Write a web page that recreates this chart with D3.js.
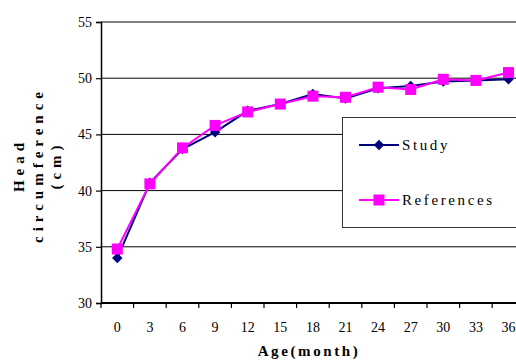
<!DOCTYPE html>
<html>
<head>
<meta charset="utf-8">
<script src="https://cdn.jsdelivr.net/npm/d3@7"></script>
<style>
  html, body { margin: 0; padding: 0; background: #fff; }
  svg { display: block; }
</style>
</head>
<body>
<svg id="chart" width="516" height="360"></svg>
<script>
// Head circumference by age
const ages = ["0", "3", "6", "9", "12", "15", "18", "21", "24", "27", "30", "33", "36"];
const studyValues = [34.0, 40.7, 43.7, 45.2, 47.1, 47.7, 48.6, 48.2, 49.1, 49.3, 49.7, 49.8, 49.9];
const referenceValues = [34.8, 40.6, 43.8, 45.8, 47.0, 47.7, 48.4, 48.3, 49.2, 49.0, 49.9, 49.8, 50.5];
const yTicks = [30, 35, 40, 45, 50, 55];
const seriesNames = ["Study", "References"];

const FONT = '"Liberation Serif"';
const svg = d3.select("#chart");
const plotLeft = 101, plotTop = 22, plotBottom = 303;
const band = 32.6;
const plotRight = plotLeft + band * ages.length;

const x = d3.scaleBand().domain(ages).range([plotLeft, plotRight]).paddingInner(0).paddingOuter(0);
const y = d3.scaleLinear().domain([30, 55]).range([plotBottom, plotTop]);

// Horizontal gridlines
svg.append("g")
  .selectAll("line")
  .data(yTicks.filter(t => t > 30 && t < 55))
  .join("line")
  .attr("x1", plotLeft).attr("x2", plotRight)
  .attr("y1", d => y(d)).attr("y2", d => y(d))
  .attr("stroke", "#000").attr("stroke-width", 1);

// Top border of plot area
svg.append("line")
  .attr("x1", plotLeft).attr("x2", plotRight)
  .attr("y1", y(55)).attr("y2", y(55))
  .attr("stroke", "#808080").attr("stroke-width", 2);

// Y axis
const yAxis = svg.append("g")
  .attr("transform", `translate(${plotLeft},0)`)
  .attr("font-family", null)
  .call(d3.axisLeft(y).tickValues(yTicks).tickSize(5).tickPadding(4).tickFormat(d3.format("d")));
yAxis.attr("font-family", null).attr("font-size", null);
yAxis.select(".domain").attr("stroke", "#000").attr("stroke-width", 1.5);
yAxis.selectAll(".tick line").attr("stroke", "#000").attr("stroke-width", 1.2);
yAxis.selectAll("text")
  .style("font-family", FONT)
  .attr("font-size", 14).attr("fill", "#000");

// X axis (ticks at category boundaries)
const xg = svg.append("g").attr("transform", `translate(0,${plotBottom})`);
xg.append("line")
  .attr("x1", plotLeft).attr("x2", plotRight)
  .attr("stroke", "#000").attr("stroke-width", 2);
xg.selectAll("line.tk")
  .data(d3.range(ages.length + 1))
  .join("line")
  .attr("class", "tk")
  .attr("x1", i => plotLeft + i * x.bandwidth())
  .attr("x2", i => plotLeft + i * x.bandwidth())
  .attr("y1", 0).attr("y2", 5)
  .attr("stroke", "#000").attr("stroke-width", 1.2);
xg.selectAll("text")
  .data(ages)
  .join("text")
  .attr("x", d => x(d) + x.bandwidth() / 2)
  .attr("y", 29)
  .attr("text-anchor", "middle")
  .style("font-family", FONT)
  .attr("font-size", 14)
  .attr("fill", "#000")
  .text(d => d);

// Series lines and markers
const cx = d => x(d) + x.bandwidth() / 2;
const line = d3.line().x(d => cx(d.age)).y(d => y(d.v));
const studyData = ages.map((a, i) => ({ age: a, v: studyValues[i] }));
const refData = ages.map((a, i) => ({ age: a, v: referenceValues[i] }));

const navy = "#000080", magenta = "#FF00FF";
const diamond = d3.symbol().type(d3.symbolDiamond2).size(70);

svg.append("path").datum(studyData)
  .attr("d", line).attr("fill", "none").attr("stroke", navy).attr("stroke-width", 2);
svg.append("g").selectAll("path")
  .data(studyData).join("path")
  .attr("d", diamond)
  .attr("transform", d => `translate(${cx(d.age)},${y(d.v)})`)
  .attr("fill", navy);

svg.append("path").datum(refData)
  .attr("d", line).attr("fill", "none").attr("stroke", magenta).attr("stroke-width", 2);
svg.append("g").selectAll("rect")
  .data(refData).join("rect")
  .attr("x", d => cx(d.age) - 5.5).attr("y", d => y(d.v) - 5.5)
  .attr("width", 11).attr("height", 11)
  .attr("fill", magenta);

// Legend
const lg = svg.append("g");
lg.append("rect")
  .attr("x", 342.5).attr("y", 117.5).attr("width", 200).attr("height", 110)
  .attr("fill", "#fff").attr("stroke", "#333").attr("stroke-width", 1);
const items = [
  { name: seriesNames[0], color: navy, yPos: 145, marker: "diamond" },
  { name: seriesNames[1], color: magenta, yPos: 200, marker: "square" }
];
items.forEach(it => {
  lg.append("line")
    .attr("x1", 359).attr("x2", 399).attr("y1", it.yPos).attr("y2", it.yPos)
    .attr("stroke", it.color).attr("stroke-width", 2);
  if (it.marker === "diamond") {
    lg.append("path").attr("d", diamond)
      .attr("transform", `translate(379,${it.yPos})`).attr("fill", it.color);
  } else {
    lg.append("rect").attr("x", 373.5).attr("y", it.yPos - 5.5)
      .attr("width", 11).attr("height", 11).attr("fill", it.color);
  }
  lg.append("text")
    .attr("x", 402).attr("y", it.yPos + 5)
    .style("font-family", FONT)
    .attr("font-size", 15).attr("letter-spacing", 2.6)
    .attr("fill", "#000")
    .text(it.name);
});

// Axis titles
svg.append("text")
  .attr("x", 309).attr("y", 356)
  .attr("text-anchor", "middle")
  .style("font-family", FONT)
  .attr("font-size", 15).attr("font-weight", "bold").attr("letter-spacing", 2.6)
  .text("Age(month)");

const yTitle = svg.append("text")
  .attr("transform", "translate(0,165) rotate(-90)")
  .attr("text-anchor", "middle")
  .style("font-family", FONT)
  .attr("font-size", 15).attr("font-weight", "bold").attr("letter-spacing", 5);
[["Head", 24], ["circumference", 43], ["(cm)", 61]].forEach(([t, dy]) => {
  yTitle.append("tspan").attr("x", 0).attr("y", dy).text(t);
});
</script>
</body>
</html>
